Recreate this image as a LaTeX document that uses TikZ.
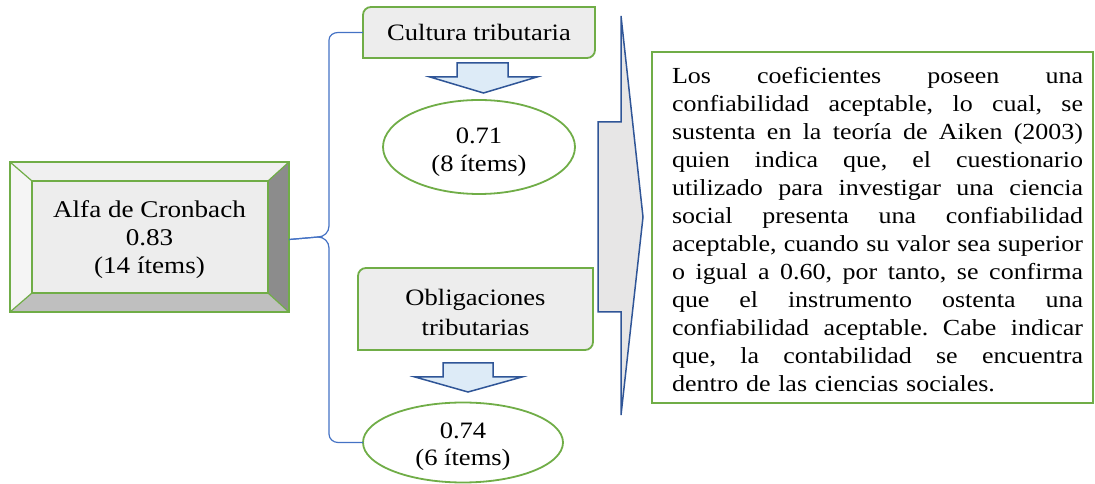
\documentclass[tikz,border=0pt]{standalone}
\usepackage{fontspec}
\setmainfont{Liberation Serif}[FakeStretch=1.13]
\definecolor{gr}{HTML}{70AD47}
\definecolor{bl}{HTML}{4472C4}
\definecolor{dbl}{HTML}{2F5597}
\definecolor{abl}{HTML}{DDEBF7}
\definecolor{bx}{HTML}{EDEDED}
\definecolor{chv}{HTML}{E7E6E6}
\frenchspacing
\newcommand\jline[1]{\makebox[411pt][s]{\spaceskip=0pt\xspaceskip=0pt #1}\\}
\begin{document}
\begin{tikzpicture}[x=1pt,y=1pt,
  gline/.style={draw=gr,line width=1.8pt},
  brace/.style={draw=bl,line width=1.2pt},
  blockarrow/.style={draw=dbl,fill=abl,line width=1.5pt,line join=miter},
  txt/.style={font=\fontsize{23.5}{28}\selectfont,align=center,inner sep=0pt}]
\useasboundingbox (0,0) rectangle (1095,484);
% ---- bevel box
\fill[bx] (32,191) rectangle (268,303);
\fill[black!6] (10,322) -- (289,322) -- (268,303) -- (32,303) -- cycle;
\fill[black!4] (10,322) -- (32,303) -- (32,191) -- (10,172) -- cycle;
\fill[black!45] (289,322) -- (289,172) -- (268,191) -- (268,303) -- cycle;
\fill[black!25] (10,172) -- (289,172) -- (268,191) -- (32,191) -- cycle;
\draw[gline] (10,172) rectangle (289,322);
\draw[gline,line width=1.2pt] (32,191) rectangle (268,303);
\draw[gline,line width=1.2pt] (10,322) -- (32,303) (289,322) -- (268,303) (10,172) -- (32,191) (289,172) -- (268,191);
\node[txt,font=\fontsize{24}{28}\selectfont,minimum width=279pt,minimum height=150pt] (alfa) at (149.5,244.5) {Alfa de Cronbach\\0.83\\(14 ítems)};
% ---- Cultura tributaria
\draw[gline,fill=bx] (363,426) -- (363,469) arc[start angle=180,end angle=90,radius=8] -- (595,477) -- (595,434) arc[start angle=0,end angle=-90,radius=8] -- cycle;
\node[txt,minimum width=232pt,minimum height=51pt] (cult) at (479,451.5) {Cultura tributaria};
% ---- arrow 1
\draw[blockarrow] (457,421) -- (508,421) -- (508,407) -- (537,407) -- (483.5,391) -- (430,407) -- (457,407) -- cycle;
% ---- ellipse 1
\draw[gline,fill=white] (479,337) ellipse[x radius=96,y radius=47];
\node[txt,minimum width=192pt,minimum height=94pt] (e1) at (479,332) {0.71\\(8 ítems)};
% ---- Obligaciones tributarias
\draw[gline,fill=bx] (358,134) -- (358,208) arc[start angle=180,end angle=90,radius=8] -- (593,216) -- (593,142) arc[start angle=0,end angle=-90,radius=8] -- cycle;
\node[txt,font=\fontsize{23.5}{30}\selectfont,minimum width=235pt,minimum height=82pt] (oblig) at (475.5,172) {Obligaciones\\tributarias};
% ---- arrow 2
\draw[blockarrow] (443,121) -- (493,121) -- (493,107) -- (522,107) -- (468,92) -- (415,107) -- (443,107) -- cycle;
% ---- ellipse 2
\draw[gline,fill=white] (463,41.5) ellipse[x radius=100,y radius=40];
\node[txt,font=\fontsize{23.5}{27}\selectfont] (e2) at (463,37) {0.74\\(6 ítems)};
\coordinate (e2w) at (363,41.5);
% ---- brace
\draw[brace] (alfa.east) -- (318,247) to[out=0,in=-90] (329,258) -- (329,444) to[out=90,in=180] (338,451.5) -- (cult.west);
\draw[brace] (alfa.east) -- (318,247) to[out=0,in=90] (329,236) -- (329,50) to[out=-90,in=180] (338,41.5) -- (e2w);
% ---- chevron
\draw[draw=dbl,fill=chv,line width=1.5pt,line join=miter] (621,468) -- (643,267) -- (621,69) -- (621,172) -- (598,172) -- (598,362) -- (621,362) -- cycle;
% ---- text box
\draw[gline] (652,81) rectangle (1093,432);
\node[font=\fontsize{23}{28}\selectfont,text width=411pt,align=left,inner sep=0pt] (conc) at (877.5,254) {%
\jline{Los coeficientes poseen una}
\jline{confiabilidad aceptable, lo cual, se}
\jline{sustenta en la teoría de Aiken (2003)}
\jline{quien indica que, el cuestionario}
\jline{utilizado para investigar una ciencia}
\jline{social presenta una confiabilidad}
\jline{aceptable, cuando su valor sea superior}
\jline{o igual a 0.60, por tanto, se confirma}
\jline{que el instrumento ostenta una}
\jline{confiabilidad aceptable. Cabe indicar}
\jline{que, la contabilidad se encuentra}
dentro de las ciencias sociales.};
\end{tikzpicture}
\end{document}
